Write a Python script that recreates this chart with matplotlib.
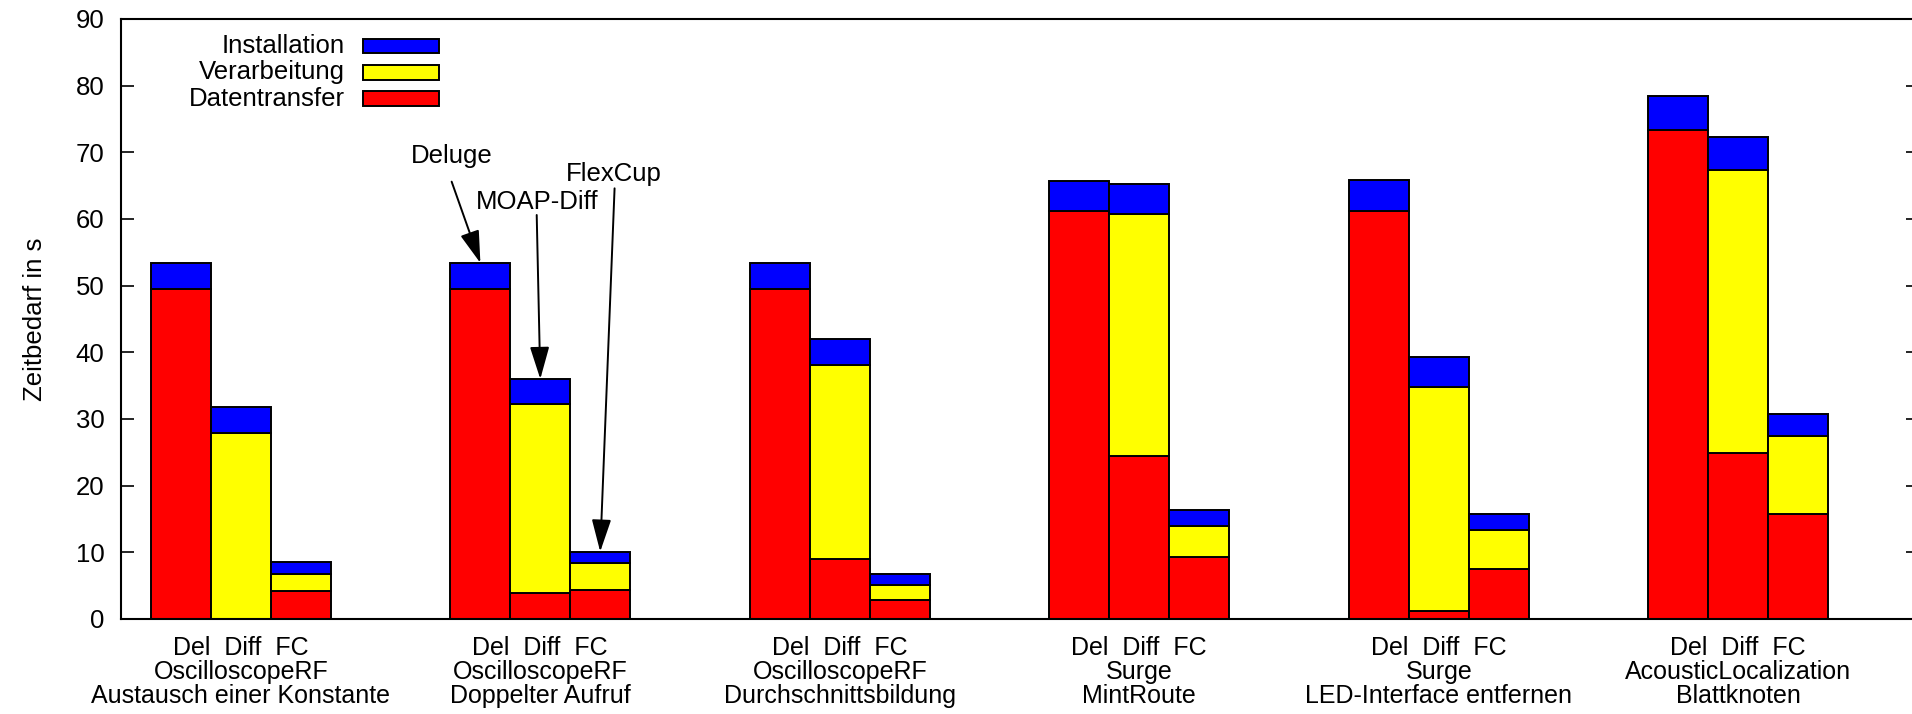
import matplotlib
matplotlib.use("Agg")
import matplotlib.pyplot as plt
import numpy as np
from matplotlib.patches import Rectangle

plt.rcParams['font.family'] = ['Liberation Sans', 'DejaVu Sans']

# ---- data ----
variants = ["Del", "Diff", "FC"]
group_labels = [
    "Del  Diff  FC\nOscilloscopeRF\nAustausch einer Konstante",
    "Del  Diff  FC\nOscilloscopeRF\nDoppelter Aufruf",
    "Del  Diff  FC\nOscilloscopeRF\nDurchschnittsbildung",
    "Del  Diff  FC\nSurge\nMintRoute",
    "Del  Diff  FC\nSurge\nLED-Interface entfernen",
    "Del  Diff  FC\nAcousticLocalization\nBlattknoten",
]
# per group: [Del, Diff, FC]
datentransfer = [
    [49.5, 0.0, 4.2],
    [49.5, 3.9, 4.3],
    [49.5, 9.0, 2.9],
    [61.2, 24.5, 9.3],
    [61.2, 1.2, 7.5],
    [73.4, 24.9, 15.7],
]
verarbeitung = [
    [0.0, 27.9, 2.6],
    [0.0, 28.3, 4.1],
    [0.0, 29.1, 2.2],
    [0.0, 36.3, 4.7],
    [0.0, 33.6, 5.9],
    [0.0, 42.4, 11.7],
]
installation = [
    [3.9, 3.9, 1.7],
    [3.9, 3.8, 1.7],
    [3.9, 3.9, 1.6],
    [4.5, 4.4, 2.4],
    [4.6, 4.5, 2.4],
    [5.0, 5.0, 3.3],
]
series_names = ["Installation", "Verarbeitung", "Datentransfer"]
series_colors = ["#0000ff", "#ffff00", "#ff0000"]
yticks = [0, 10, 20, 30, 40, 50, 60, 70, 80, 90]
annot_texts = ["Deluge", "MOAP-Diff", "FlexCup"]

# ---- figure ----
W, H = 1912, 714
fig = plt.figure(figsize=(W / 100, H / 100), dpi=100)
left_px, right_px, top_px, bottom_px = 121, 1918, 19, 619
ax = fig.add_axes([left_px / W, 1 - bottom_px / H,
                   (right_px - left_px) / W, (bottom_px - top_px) / H])

FS = 18.5
FSX = 18
group_gap = 5
red = np.array(datentransfer)
yel = np.array(verarbeitung)
blu = np.array(installation)
ngroups = red.shape[0]
for g in range(ngroups):
    x = g * group_gap + np.arange(len(variants))
    ax.bar(x, red[g], width=1.0, color=series_colors[2], edgecolor="black", linewidth=1.4)
    ax.bar(x, yel[g], width=1.0, bottom=red[g], color=series_colors[1], edgecolor="black", linewidth=1.4)
    ax.bar(x, blu[g], width=1.0, bottom=red[g] + yel[g], color=series_colors[0], edgecolor="black", linewidth=1.4)

ax.set_xlim(-1, 29)
ax.set_ylim(0, 90)
ax.set_yticks(yticks)
ax.tick_params(axis='y', direction='in', length=9, width=1.2, labelsize=FS,
               right=True, left=True, pad=12)
centers = [g * group_gap + 1 for g in range(ngroups)]
ax.set_xticks(centers)
ax.set_xticklabels(group_labels, fontsize=FSX, linespacing=0.98)
ax.tick_params(axis='x', length=0, pad=12.5)
for s in ax.spines.values():
    s.set_linewidth(1.5)
ax.set_ylabel("Zeitbedarf in s", fontsize=FS)
ax.yaxis.set_label_coords(-0.041, 0.5)

# legend (gnuplot style: right-aligned text, swatch on the right)
for i, (name, col) in enumerate(zip(series_names, series_colors)):
    yc = 46 + 26.3 * i
    fig.text(345 / W, 1 - yc / H, name, ha="right", va="center", fontsize=FS)
    fig.patches.append(Rectangle((363 / W, 1 - (yc + 7.2) / H), 76 / W, 14.5 / H,
                                 transform=fig.transFigure, facecolor=col,
                                 edgecolor="black", linewidth=1.4))

# annotations
annot_xy_text = [(4.52, 69.4), (5.94, 62.5), (7.23, 66.8)]
annot_start = [(4.52, 65.6), (5.94, 60.6), (7.24, 64.6)]
annot_target = [(1, 0), (1, 1), (1, 2)]
for txt, (tx, ty), (sx, sy), (g, v) in zip(annot_texts, annot_xy_text, annot_start, annot_target):
    ax.text(tx, ty, txt, ha="center", va="center", fontsize=FS)
    top = red[g, v] + yel[g, v] + blu[g, v]
    ax.annotate("", xy=(g * group_gap + v, top), xytext=(sx, sy),
                arrowprops=dict(arrowstyle="-|>,head_length=1.0,head_width=0.3",
                                mutation_scale=20, color="black", lw=1.4,
                                shrinkA=0, shrinkB=0))

fig.savefig("out.png", dpi=100)
